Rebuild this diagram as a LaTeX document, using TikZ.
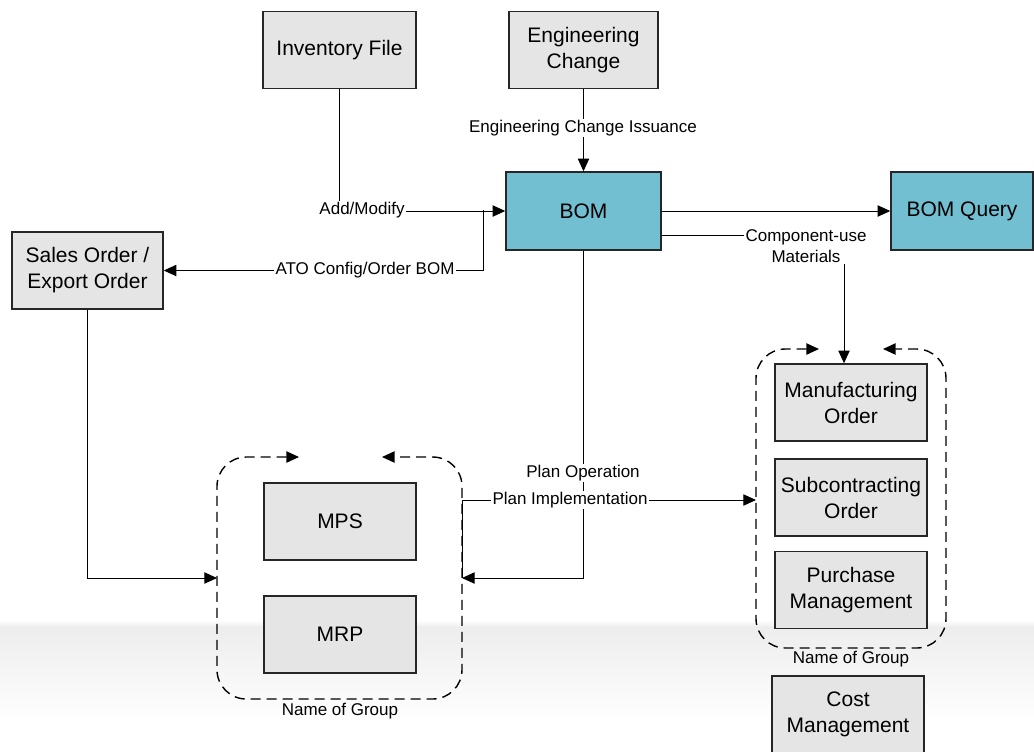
\documentclass[tikz,border=0pt]{standalone}
\usepackage{fontspec}
\setmainfont{Liberation Sans}
\usetikzlibrary{arrows.meta}
\definecolor{bomblue}{RGB}{114,191,210}
\definecolor{boxgray}{RGB}{229,229,229}
\begin{document}
\begin{tikzpicture}[x=0.75pt,y=-0.75pt,
  box/.style={draw=black!85,line width=1.1pt,fill=boxgray,minimum width=114pt,minimum height=57.75pt,
    align=center,inner sep=0pt,font=\fontsize{15.75}{19.5}\selectfont},
  cyanbox/.style={box,fill=bomblue},
  lbl/.style={fill=white,inner sep=1pt,align=center,font=\fontsize{12.75}{16}\selectfont},
  grplbl/.style={inner sep=0pt,font=\fontsize{12.75}{16}\selectfont},
  conn/.style={line width=0.75pt,black},
  tip/.style={},
  arr/.style={conn,-{Triangle[length=9.5pt,width=8.5pt]}},
  grp/.style={line width=1.05pt,dash pattern=on 7.5pt off 4.5pt,rounded corners=22pt,
    {Triangle[length=9.5pt,width=8.5pt]}-{Triangle[length=9.5pt,width=8.5pt]}}
]
\clip (0,0) rectangle (1034,751);
\fill[white] (0,0) rectangle (1034,751);
% background band
\shade[top color=white,bottom color=black!7] (0,620) rectangle (1034,627);
\shade[top color=black!7,bottom color=white] (0,627) rectangle (1034,722);

% boxes
\node[box,minimum width=114.75pt] (inv) at (339.5,50) {Inventory File};
\node[box,minimum width=111.75pt] (ec) at (583.5,50) {Engineering\\Change};
\node[cyanbox,minimum width=116.25pt,minimum height=58.5pt] (bom) at (583.5,211) {BOM};
\node[cyanbox,minimum width=106.5pt,minimum height=58.5pt] (bq) at (962,211) {BOM Query};
\node[box,minimum width=113.25pt] (sales) at (87.5,270.5) {Sales Order /\\Export Order};
\node[box] (mps) at (340,521.5) {MPS};
\node[box] (mrp) at (340,634.5) {MRP};
\node[box] (mo) at (851,402.5) {Manufacturing\\Order};
\node[box] (sub) at (851,497.5) {Subcontracting\\Order};
\node[box] (pm) at (851,590) {Purchase\\Management};
\node[box] (cost) at (848,714.5) {Cost\\Management};

% groups
\draw[grp] (299,457) -| (217,699) -| (462,457) -- (382,457);
\draw[grp] (819,349) -| (756,648) -| (946,349) -- (883,349);
\node[grplbl] (g1name) at (340,711) {Name of Group};
\node[grplbl] (g2name) at (851,659) {Name of Group};

% coordinates
\coordinate (atoj) at (483,210);
\coordinate (g1w) at (217,578);
\coordinate (g1e) at (462,578);
\coordinate (g1ebend) at (462,500);
\coordinate (g2w) at (756,500);

% connectors
\draw[arr] (inv.south) |- (bom.west);
\draw[arr] (atoj) |- (sales.east);
\draw[arr] (ec.south) -- (bom.north);
\draw[arr] (bom.east) -- (bq.west);
\draw[arr] ([yshift=-18pt]bom.east) -| ([xshift=-5.25pt]mo.north);
\draw[arr] (sales.south) |- (g1w);
\draw[arr] (bom.south) |- (g1e);
\draw[arr] (g1e) -- (g1ebend) -- (g2w);

% labels
\node[lbl] (lAdd) at (362,210) {Add/Modify};
\node[lbl] (lAto) at (365,270) {ATO Config/Order BOM};
\node[lbl] (lEci) at (583,128) {Engineering Change Issuance};
\node[lbl] (lCu) at (806,246) {Component-use\\Materials};
\node[lbl] (lPo) at (583,473) {Plan Operation};
\node[lbl] (lPi) at (570,500) {Plan Implementation};
\end{tikzpicture}
\end{document}
